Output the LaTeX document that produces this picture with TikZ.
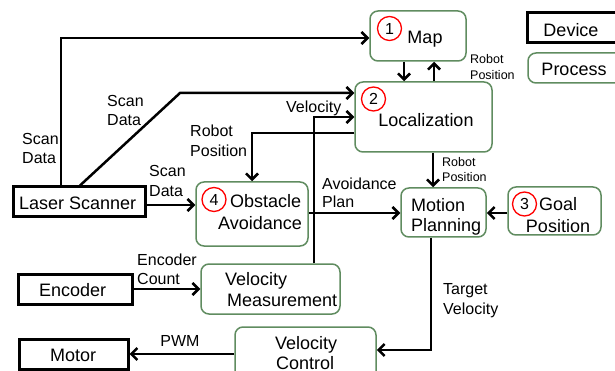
\documentclass[tikz,border=0pt]{standalone}
\usepackage{fontspec}
\setmainfont{Liberation Sans}
\usetikzlibrary{arrows.meta,calc}
\definecolor{procgreen}{RGB}{96,140,96}
\tikzset{
  proc/.style={draw=procgreen, line width=1.5pt, rounded corners=8pt, inner sep=0pt},
  dev/.style={draw=black, line width=3pt, inner sep=0pt},
  big/.style={font=\fontsize{18}{21}\selectfont, inner sep=0pt, text height=12.9pt, text depth=0pt},
  mid/.style={font=\fontsize{16}{19}\selectfont, inner sep=0pt, text height=11.5pt, text depth=0pt},
  sml/.style={font=\fontsize{12.5}{15}\selectfont, inner sep=0pt, text height=9pt, text depth=0pt},
  num/.style={circle, draw=red, line width=1.3pt, minimum size=24pt, inner sep=0pt, font=\fontsize{16}{19}\selectfont},
  wire/.style={line width=2.5pt, line join=miter},
  arr/.style={wire, -{Straight Barb[length=6pt,width=12pt]}},
}
\begin{document}
\begin{tikzpicture}[x=1pt,y=-1pt]
\useasboundingbox (0,0) rectangle (615,371);
\clip (0,0) rectangle (615,371);

% process boxes
\node[proc, minimum width=96pt,  minimum height=50pt] (map)    at (418,36)    {};
\node[proc, minimum width=137pt, minimum height=70pt] (loc)    at (423.5,117) {};
\node[proc, minimum width=112pt, minimum height=30pt] (legp)   at (584,68)    {};
\node[proc, minimum width=85pt,  minimum height=49pt] (motion) at (443.5,212.5) {};
\node[proc, minimum width=93pt,  minimum height=48pt] (goal)   at (554.5,211) {};
\node[proc, minimum width=112pt, minimum height=64pt] (obst)   at (252,214)   {};
\node[proc, minimum width=139pt, minimum height=50pt] (vmeas)  at (270.5,289) {};
\node[proc, minimum width=141pt, minimum height=73pt] (vctrl)  at (305.5,363.5) {};

% device boxes
\node[dev, minimum width=113pt, minimum height=30pt] (legd)    at (583.5,28) {};
\node[dev, minimum width=132pt, minimum height=30pt] (laser)   at (79,202)   {};
\node[dev, minimum width=114pt, minimum height=30pt] (encoder) at (75,289.5) {};
\node[dev, minimum width=109pt, minimum height=30pt] (motor)   at (73.5,354) {};

% box texts
\node[big] (tmap) at (425,37) {Map};
\node[big] (tloc) at (426,120) {Localization};
\node[big] (tdev) at (571,30) {Device};
\node[big] (tproc) at (574,69) {Process};
\node[big, anchor=west] (tmot1) at (411,205) {Motion};
\node[big, anchor=west] (tmot2) at (411,225.5) {Planning};
\node[big, anchor=west] (tgoal1) at (539,204.5) {Goal};
\node[big] (tgoal2) at (558,226) {Position};
\node[big, anchor=west] (tobs1) at (230,201) {Obstacle};
\node[big, anchor=west] (tobs2) at (218,223) {Avoidance};
\node[big, anchor=west] (tvm1) at (225,279.5) {Velocity};
\node[big, anchor=west] (tvm2) at (227,300.5) {Measurement};
\node[big, anchor=west] (tvc1) at (275,343) {Velocity};
\node[big, anchor=west] (tvc2) at (276,363.5) {Control};
\node[big, anchor=west] (tlaser) at (19,203) {Laser Scanner};
\node[big, anchor=west] (tenc) at (39,290.5) {Encoder};
\node[big, anchor=west] (tmotor) at (50,355) {Motor};

% numbered markers
\node[num] (n1) at (389.5,28.5) {1};
\node[num] (n2) at (373.5,99) {2};
\node[num] (n3) at (524.5,204) {3};
\node[num] (n4) at (214,199.5) {4};

% bend points
\coordinate (c1) at (61,38);
\coordinate (d1) at (180,93);
\coordinate (c3) at (252,133);
\coordinate (c4) at (170,205);
\coordinate (c5) at (404,70);
\coordinate (c6) at (434,70);
\coordinate (c7) at (433,170);
\coordinate (c8) at (350,213);
\coordinate (c10) at (314,117);
\coordinate (c11) at (160,289);
\coordinate (c12) at (431,350);
\coordinate (c13) at (180,354);

% connectors
\draw[arr] (c1 |- laser.north) -- (c1) -- (c1 -| map.west);
\draw[arr] ($(laser.north)+(1,0)$) -- (d1) -- (d1 -| loc.west);
\draw[arr] (c3 -| loc.west) -- (c3) -- (c3 |- obst.north);
\draw[arr] (c4 -| laser.east) -- (c4 -| obst.west);
\draw[arr] (c5 |- map.south) -- (c5 |- loc.north);
\draw[arr] (c6 |- loc.north) -- (c6 |- map.south);
\draw[arr] (c7 |- loc.south) -- (c7 |- motion.north);
\draw[arr] (c8 -| obst.east) -- (c8 -| motion.west);
\draw[arr] (c8 -| goal.west) -- (c8 -| motion.east);
\draw[arr] (c10 |- vmeas.north) -- (c10) -- (c10 -| loc.west);
\draw[arr] (c11 -| encoder.east) -- (c11 -| vmeas.west);
\draw[arr] (c12 |- motion.south) -- (c12) -- (c12 -| vctrl.east);
\draw[arr] (c13 -| vctrl.west) -- (c13 -| motor.east);

% connector labels
\node[mid, anchor=west] (l1a) at (22,138.5) {Scan};
\node[mid, anchor=west] (l1b) at (22,157.5) {Data};
\node[mid, anchor=west] (l2a) at (107,101) {Scan};
\node[mid, anchor=west] (l2b) at (107,119.5) {Data};
\node[mid, anchor=west] (l3a) at (190,131) {Robot};
\node[mid, anchor=west] (l3b) at (190,151) {Position};
\node[mid, anchor=west] (l4a) at (149,171) {Scan};
\node[mid, anchor=west] (l4b) at (149,191) {Data};
\node[mid, anchor=west] (l10) at (286,107) {Velocity};
\node[mid, anchor=west] (l8a) at (322,183.5) {Avoidance};
\node[mid, anchor=west] (l8b) at (322,202) {Plan};
\node[mid, anchor=west] (l11a) at (137,259.5) {Encoder};
\node[mid, anchor=west] (l11b) at (137,278.5) {Count};
\node[mid, anchor=west] (l12a) at (443,289) {Target};
\node[mid, anchor=west] (l12b) at (443,308.5) {Velocity};
\node[mid] (l13) at (180,340.5) {PWM};
\node[sml, anchor=west] (l6a) at (470,59.5) {Robot};
\node[sml, anchor=west] (l6b) at (470,75.5) {Position};
\node[sml, anchor=west] (l7a) at (442,162) {Robot};
\node[sml, anchor=west] (l7b) at (442,177) {Position};
\end{tikzpicture}
\end{document}
